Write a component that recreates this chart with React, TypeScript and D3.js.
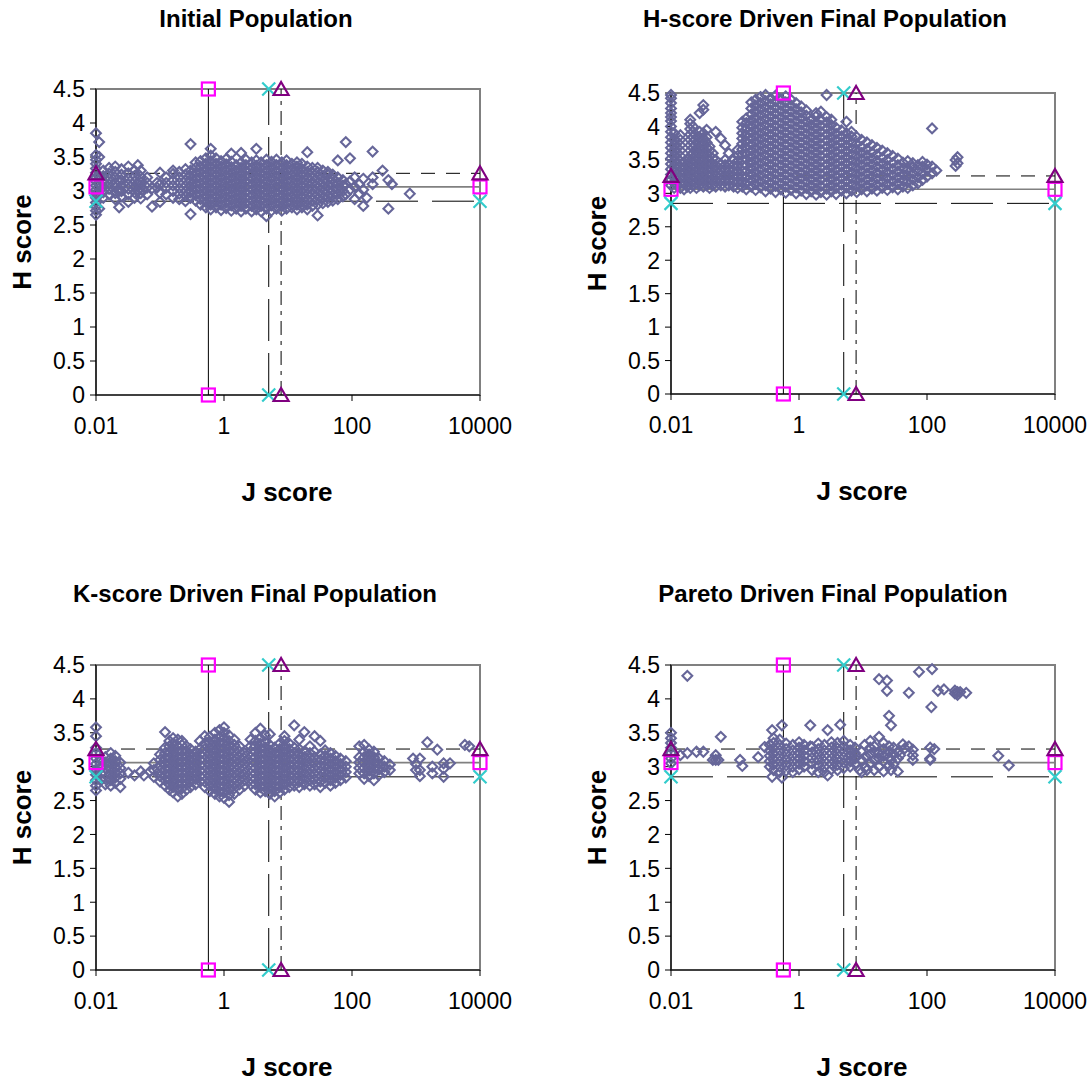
import React from 'react';
import * as d3 from 'd3';

// ---------- values ----------
const jTicks = [0.01, 1, 100, 10000];
const hTicks = [0, 0.5, 1, 1.5, 2, 2.5, 3, 3.5, 4, 4.5];
const jDomain = [0.01, 10000];
const hDomain = [0, 4.5];

// reference solutions: square, cross, triangle
const refNames = ['square', 'cross', 'triangle'];
const refJ = [0.57, 5.0, 7.8];
const refH = [3.06, 2.85, 3.26];

type Col = [number, number[]]; // [J score, H scores observed at that J]

const initialPop: Col[] = [
  [0.01, [2.65, 2.71, 2.77, 2.83, 2.9, 2.96, 3.02, 3.08, 3.14, 3.2, 3.27, 3.33, 3.4, 3.46, 3.53, 3.85]],
  [0.0112, [2.74, 2.95, 3.1, 3.22, 3.5, 3.72]],
  [0.013, [2.9, 2.98, 3.06, 3.14, 3.22, 3.3]],
  [0.016, [2.95, 3.03, 3.1, 3.18, 3.26, 3.34]],
  [0.02, [2.88, 2.97, 3.05, 3.12, 3.2, 3.28, 3.36]],
  [0.023, [2.76, 3.0, 3.15]],
  [0.025, [2.92, 3.0, 3.08, 3.16, 3.24, 3.32]],
  [0.032, [2.84, 2.95, 3.03, 3.1, 3.18, 3.26, 3.36]],
  [0.04, [2.9, 2.98, 3.06, 3.14, 3.22, 3.3]],
  [0.045, [3.0, 3.12, 3.38]],
  [0.05, [2.89, 2.97, 3.05, 3.13, 3.21, 3.3]],
  [0.063, [2.95, 3.05, 3.12, 3.2]],
  [0.075, [2.77, 3.04]],
  [0.09, [3.05, 3.12]],
  [0.1, [2.84, 2.97, 3.1, 3.27]],
  [0.125, [2.95, 3.05, 3.12, 3.2]],
  [0.16, [2.9, 3.0, 3.08, 3.16, 3.25, 3.3]],
  [0.2, [2.88, 2.96, 3.04, 3.12, 3.2, 3.28]],
  [0.25, [2.85, 2.93, 3.0, 3.08, 3.16, 3.24, 3.32]],
  [0.3, [2.66, 2.9, 2.98, 3.06, 3.14, 3.22, 3.3, 3.69]],
  [0.36, [2.86, 2.94, 3.02, 3.1, 3.18, 3.26, 3.34, 3.42]],
  [0.43, [2.8, 2.88, 2.96, 3.04, 3.12, 3.2, 3.28, 3.36, 3.44]],
  [0.52, [2.76, 2.84, 2.92, 3.0, 3.08, 3.16, 3.24, 3.32, 3.4, 3.48]],
  [0.62, [2.73, 2.8, 2.88, 2.96, 3.04, 3.12, 3.2, 3.28, 3.36, 3.44, 3.52, 3.62]],
  [0.75, [2.76, 2.84, 2.92, 3.0, 3.08, 3.16, 3.24, 3.32, 3.4, 3.48]],
  [0.9, [2.72, 2.8, 2.88, 2.96, 3.04, 3.12, 3.2, 3.28, 3.36, 3.44]],
  [1.08, [2.75, 2.83, 2.91, 2.99, 3.07, 3.15, 3.23, 3.31, 3.39, 3.47]],
  [1.3, [2.71, 2.79, 2.87, 2.95, 3.03, 3.11, 3.19, 3.27, 3.35, 3.43, 3.55]],
  [1.55, [2.74, 2.82, 2.9, 2.98, 3.06, 3.14, 3.22, 3.3, 3.38]],
  [1.85, [2.7, 2.78, 2.86, 2.94, 3.02, 3.1, 3.18, 3.26, 3.34, 3.42, 3.56]],
  [2.2, [2.74, 2.82, 2.9, 2.98, 3.06, 3.14, 3.22, 3.3, 3.38, 3.46]],
  [2.7, [2.7, 2.78, 2.86, 2.94, 3.02, 3.1, 3.18, 3.26, 3.34, 3.42]],
  [3.2, [2.73, 2.81, 2.89, 2.97, 3.05, 3.13, 3.21, 3.29, 3.37, 3.45, 3.62]],
  [3.8, [2.7, 2.78, 2.86, 2.94, 3.02, 3.1, 3.18, 3.26, 3.34, 3.42]],
  [4.6, [2.63, 2.74, 2.82, 2.9, 2.98, 3.06, 3.14, 3.22, 3.3, 3.38, 3.46]],
  [5.5, [2.71, 2.79, 2.87, 2.95, 3.03, 3.11, 3.19, 3.27, 3.35, 3.43]],
  [6.6, [2.74, 2.82, 2.9, 2.98, 3.06, 3.14, 3.22, 3.3, 3.38, 3.46]],
  [8, [2.71, 2.78, 2.86, 2.94, 3.02, 3.1, 3.18, 3.26, 3.34, 3.42]],
  [9.5, [2.74, 2.82, 2.9, 2.98, 3.06, 3.14, 3.22, 3.3, 3.38, 3.45]],
  [11.5, [2.76, 2.84, 2.92, 3.0, 3.08, 3.16, 3.24, 3.32, 3.4]],
  [13.8, [2.73, 2.8, 2.88, 2.96, 3.04, 3.12, 3.2, 3.28, 3.36, 3.42]],
  [16.5, [2.76, 2.84, 2.92, 3.0, 3.08, 3.16, 3.24, 3.32, 3.4]],
  [20, [2.73, 2.8, 2.88, 2.96, 3.04, 3.12, 3.2, 3.28, 3.36, 3.57]],
  [24, [2.78, 2.86, 2.94, 3.02, 3.1, 3.18, 3.26, 3.34]],
  [29, [2.64, 2.8, 2.88, 2.96, 3.04, 3.12, 3.2, 3.28, 3.34]],
  [35, [2.82, 2.9, 2.98, 3.06, 3.14, 3.22, 3.3]],
  [42, [2.84, 2.92, 3.0, 3.08, 3.16, 3.24, 3.28]],
  [50, [2.86, 2.94, 3.02, 3.1, 3.18, 3.24]],
  [60, [2.88, 2.96, 3.04, 3.12, 3.2, 3.45]],
  [72, [2.92, 3.0, 3.08, 3.16]],
  [80, [3.72, 2.95, 3.1]],
  [93, [3.48, 3.02, 3.14]],
  [110, [2.88, 3.06, 3.2]],
  [130, [2.96, 3.1]],
  [150, [2.78, 3.02, 3.18]],
  [170, [2.9]],
  [210, [3.58, 3.1, 3.2]],
  [300, [3.3]],
  [370, [2.74, 3.16]],
  [420, [3.1]],
  [800, [2.96]],
];

const hDriven: Col[] = [
  [0.01, [3.12, 3.2, 3.28, 3.36, 3.44, 3.52, 3.6, 3.68, 3.76, 3.84, 3.92, 4.0, 4.08, 4.14, 4.2, 4.27, 4.35, 4.42, 4.47]],
  [0.0112, [3.08, 3.16, 3.24, 3.32, 3.4, 3.48, 3.56, 3.64, 3.72, 3.8, 3.9]],
  [0.0125, [3.12, 3.2, 3.28, 3.36, 3.44, 3.52, 3.6, 3.68, 3.76]],
  [0.014, [3.08, 3.16, 3.24, 3.32, 3.4, 3.48, 3.56, 3.64, 3.72, 3.8, 3.87]],
  [0.016, [3.06, 3.14, 3.22, 3.3, 3.38, 3.46]],
  [0.018, [3.1, 3.18, 3.26, 3.34, 3.42, 3.5]],
  [0.02, [3.08, 3.16, 3.24, 3.32, 3.4, 3.48, 3.56, 3.64, 3.72, 3.8, 3.88, 3.96, 4.04, 4.1]],
  [0.022, [3.12, 3.2, 3.28, 3.36, 3.44, 3.52, 3.6, 3.68, 3.76, 3.84, 3.92, 4.0]],
  [0.025, [3.08, 3.16, 3.24, 3.32, 3.4, 3.48, 3.56, 3.62]],
  [0.028, [3.12, 3.2, 3.28, 3.36, 3.44, 3.52, 3.6, 3.68, 3.76, 3.84, 3.92, 4.2]],
  [0.032, [3.1, 3.18, 3.26, 3.34, 3.42, 3.5, 3.58, 3.66, 3.74, 3.82, 3.9, 4.25, 4.32]],
  [0.036, [3.12, 3.2, 3.28, 3.36, 3.44, 3.52, 3.6, 3.68, 3.76, 3.84, 3.95]],
  [0.04, [3.08, 3.16, 3.24, 3.32, 3.4, 3.48, 3.56, 3.64, 3.7]],
  [0.045, [3.12, 3.2, 3.28, 3.36, 3.44, 3.52, 3.6]],
  [0.05, [3.1, 3.18, 3.26, 3.34, 3.42, 3.5, 3.92]],
  [0.06, [3.12, 3.2, 3.28, 3.36, 3.44, 3.82]],
  [0.07, [3.1, 3.18, 3.26, 3.34, 3.42, 3.5, 3.72]],
  [0.08, [3.12, 3.2, 3.28, 3.36, 3.44, 3.6]],
  [0.095, [3.1, 3.18, 3.26, 3.34, 3.42, 3.5]],
  [0.11, [3.08, 3.16, 3.24, 3.32, 3.4, 3.48, 3.56, 3.65]],
  [0.13, [3.1, 3.18, 3.26, 3.34, 3.42, 3.5, 3.58, 3.66, 3.74, 3.82, 3.9, 3.98, 4.07]],
  [0.15, [3.06, 3.15, 3.24, 3.33, 3.42, 3.51, 3.6, 3.69, 3.78, 3.87, 3.96, 4.05, 4.12]],
  [0.18, [3.1, 3.19, 3.28, 3.37, 3.46, 3.55, 3.64, 3.73, 3.82, 3.91, 4.0, 4.09, 4.18, 4.27, 4.36]],
  [0.21, [3.05, 3.14, 3.23, 3.32, 3.41, 3.5, 3.59, 3.68, 3.77, 3.86, 3.95, 4.04, 4.13, 4.22, 4.31, 4.4]],
  [0.25, [3.09, 3.18, 3.27, 3.36, 3.45, 3.54, 3.63, 3.72, 3.81, 3.9, 3.99, 4.08, 4.17, 4.26, 4.35, 4.44]],
  [0.3, [3.03, 3.12, 3.21, 3.3, 3.39, 3.48, 3.57, 3.66, 3.75, 3.84, 3.93, 4.02, 4.11, 4.2, 4.29, 4.38, 4.47]],
  [0.36, [3.07, 3.16, 3.25, 3.34, 3.43, 3.52, 3.61, 3.7, 3.79, 3.88, 3.97, 4.06, 4.15, 4.24, 4.33, 4.42]],
  [0.43, [3.02, 3.11, 3.2, 3.29, 3.38, 3.47, 3.56, 3.65, 3.74, 3.83, 3.92, 4.01, 4.1, 4.19, 4.28, 4.37, 4.46]],
  [0.52, [3.06, 3.15, 3.24, 3.33, 3.42, 3.51, 3.6, 3.69, 3.78, 3.87, 3.96, 4.05, 4.14, 4.23, 4.32, 4.41]],
  [0.62, [3.01, 3.1, 3.19, 3.28, 3.37, 3.46, 3.55, 3.64, 3.73, 3.82, 3.91, 4.0, 4.09, 4.18, 4.27, 4.36, 4.45]],
  [0.75, [3.05, 3.14, 3.23, 3.32, 3.41, 3.5, 3.59, 3.68, 3.77, 3.86, 3.95, 4.04, 4.13, 4.22, 4.31, 4.4]],
  [0.9, [3.0, 3.09, 3.18, 3.27, 3.36, 3.45, 3.54, 3.63, 3.72, 3.81, 3.9, 3.99, 4.08, 4.17, 4.26, 4.35]],
  [1.08, [3.04, 3.13, 3.22, 3.31, 3.4, 3.49, 3.58, 3.67, 3.76, 3.85, 3.94, 4.03, 4.12, 4.21, 4.3]],
  [1.3, [2.99, 3.08, 3.17, 3.26, 3.35, 3.44, 3.53, 3.62, 3.71, 3.8, 3.89, 3.98, 4.07, 4.16, 4.24]],
  [1.55, [3.03, 3.12, 3.21, 3.3, 3.39, 3.48, 3.57, 3.66, 3.75, 3.84, 3.93, 4.02, 4.1]],
  [1.85, [2.98, 3.07, 3.16, 3.25, 3.34, 3.43, 3.52, 3.61, 3.7, 3.79, 3.88, 3.97, 4.06, 4.15, 4.2]],
  [2.2, [3.02, 3.11, 3.2, 3.29, 3.38, 3.47, 3.56, 3.65, 3.74, 3.83, 3.92, 4.01, 4.1, 4.22]],
  [2.7, [2.98, 3.07, 3.16, 3.25, 3.34, 3.43, 3.52, 3.61, 3.7, 3.79, 3.88, 3.97, 4.06, 4.14, 4.47]],
  [3.2, [3.03, 3.12, 3.21, 3.3, 3.39, 3.48, 3.57, 3.66, 3.75, 3.84, 3.93, 4.02, 4.1]],
  [3.8, [2.99, 3.08, 3.17, 3.26, 3.35, 3.44, 3.53, 3.62, 3.71, 3.8, 3.89, 3.98]],
  [4.6, [3.04, 3.13, 3.22, 3.31, 3.4, 3.49, 3.58, 3.67, 3.76, 3.85, 3.94]],
  [5.5, [3.0, 3.09, 3.18, 3.27, 3.36, 3.45, 3.54, 3.63, 3.72, 3.81, 3.9, 4.07]],
  [6.6, [3.04, 3.13, 3.22, 3.31, 3.4, 3.49, 3.58, 3.67, 3.76, 3.85, 3.92]],
  [8, [3.02, 3.11, 3.2, 3.29, 3.38, 3.47, 3.56, 3.65, 3.74, 3.84]],
  [9.5, [3.06, 3.15, 3.24, 3.33, 3.42, 3.51, 3.6, 3.69, 3.8]],
  [11.5, [3.03, 3.12, 3.21, 3.3, 3.39, 3.48, 3.57, 3.66, 3.76]],
  [13.8, [3.07, 3.16, 3.25, 3.34, 3.43, 3.52, 3.61, 3.72]],
  [16.5, [3.04, 3.13, 3.22, 3.31, 3.4, 3.49, 3.58, 3.68]],
  [20, [3.08, 3.17, 3.26, 3.35, 3.44, 3.53, 3.64]],
  [24, [3.05, 3.14, 3.23, 3.32, 3.41, 3.5, 3.6]],
  [29, [3.09, 3.18, 3.27, 3.36, 3.45, 3.56]],
  [35, [3.06, 3.15, 3.24, 3.33, 3.42, 3.52]],
  [42, [3.1, 3.19, 3.28, 3.37, 3.46]],
  [50, [3.08, 3.17, 3.26, 3.35, 3.48]],
  [60, [3.12, 3.21, 3.3, 3.39, 3.45]],
  [72, [3.15, 3.24, 3.33, 3.42]],
  [85, [3.2, 3.3, 3.4, 3.47]],
  [100, [3.25, 3.35, 3.43]],
  [120, [3.3, 3.4, 3.97]],
  [140, [3.34]],
  [280, [3.41, 3.5]],
  [300, [3.45, 3.54]],
];

const kDriven: Col[] = [
  [0.01, [2.65, 2.72, 2.8, 2.88, 2.96, 3.04, 3.12, 3.2, 3.28, 3.45, 3.58]],
  [0.012, [2.8, 2.9, 3.0, 3.1]],
  [0.014, [2.74, 2.82, 2.9, 2.98, 3.06, 3.14]],
  [0.017, [2.72, 2.8, 2.88, 2.96, 3.04, 3.12, 3.2]],
  [0.02, [2.76, 2.84, 2.92, 3.0, 3.08, 3.16]],
  [0.024, [2.7, 2.82, 2.9, 2.98, 3.06]],
  [0.032, [2.91]],
  [0.04, [2.87]],
  [0.05, [2.93]],
  [0.056, [2.87]],
  [0.07, [2.93]],
  [0.08, [2.85, 2.95, 3.05]],
  [0.1, [2.78, 2.86, 2.94, 3.02, 3.1, 3.18]],
  [0.12, [2.72, 2.8, 2.88, 2.96, 3.04, 3.12, 3.2, 3.28, 3.51]],
  [0.14, [2.66, 2.74, 2.82, 2.9, 2.98, 3.06, 3.14, 3.22, 3.3, 3.38]],
  [0.16, [2.62, 2.7, 2.78, 2.86, 2.94, 3.02, 3.1, 3.18, 3.26, 3.34, 3.42]],
  [0.19, [2.56, 2.66, 2.74, 2.82, 2.9, 2.98, 3.06, 3.14, 3.22, 3.3, 3.4]],
  [0.22, [2.6, 2.68, 2.76, 2.84, 2.92, 3.0, 3.08, 3.16, 3.24, 3.32, 3.38]],
  [0.26, [2.66, 2.74, 2.82, 2.9, 2.98, 3.06, 3.14, 3.22, 3.3]],
  [0.3, [2.7, 2.78, 2.86, 2.94, 3.02, 3.1, 3.18, 3.26]],
  [0.36, [2.74, 2.82, 2.9, 2.98, 3.06, 3.14, 3.22]],
  [0.42, [2.78, 2.86, 2.94, 3.02, 3.1, 3.18, 3.26, 3.38]],
  [0.5, [2.7, 2.78, 2.86, 2.94, 3.02, 3.1, 3.18, 3.26, 3.34, 3.45]],
  [0.6, [2.64, 2.72, 2.8, 2.88, 2.96, 3.04, 3.12, 3.2, 3.28, 3.36, 3.44]],
  [0.72, [2.6, 2.68, 2.76, 2.84, 2.92, 3.0, 3.08, 3.16, 3.24, 3.32, 3.4, 3.5]],
  [0.85, [2.56, 2.64, 2.72, 2.8, 2.88, 2.96, 3.04, 3.12, 3.2, 3.28, 3.36, 3.44, 3.54]],
  [1, [2.54, 2.62, 2.7, 2.78, 2.86, 2.94, 3.02, 3.1, 3.18, 3.26, 3.34, 3.42, 3.5, 3.58]],
  [1.2, [2.48, 2.58, 2.66, 2.74, 2.82, 2.9, 2.98, 3.06, 3.14, 3.22, 3.3, 3.38, 3.46]],
  [1.45, [2.6, 2.68, 2.76, 2.84, 2.92, 3.0, 3.08, 3.16, 3.24, 3.32, 3.4]],
  [1.75, [2.66, 2.74, 2.82, 2.9, 2.98, 3.06, 3.14, 3.22, 3.3]],
  [2.1, [2.72, 2.8, 2.88, 2.96, 3.04, 3.12, 3.2]],
  [2.6, [2.74, 2.82, 2.9, 2.98, 3.06, 3.14, 3.22, 3.3, 3.4]],
  [3.1, [2.66, 2.74, 2.82, 2.9, 2.98, 3.06, 3.14, 3.22, 3.3, 3.38, 3.5]],
  [3.7, [2.62, 2.7, 2.78, 2.86, 2.94, 3.02, 3.1, 3.18, 3.26, 3.34, 3.42, 3.56]],
  [4.4, [2.64, 2.72, 2.8, 2.88, 2.96, 3.04, 3.12, 3.2, 3.28, 3.36, 3.46]],
  [5.2, [2.6, 2.68, 2.76, 2.84, 2.92, 3.0, 3.08, 3.16, 3.24, 3.32, 3.48]],
  [6.2, [2.56, 2.64, 2.72, 2.8, 2.88, 2.96, 3.04, 3.12, 3.2, 3.28]],
  [7.4, [2.62, 2.7, 2.78, 2.86, 2.94, 3.02, 3.1, 3.18, 3.26, 3.34]],
  [8.8, [2.66, 2.74, 2.82, 2.9, 2.98, 3.06, 3.14, 3.22, 3.3, 3.38, 3.45]],
  [10.5, [2.7, 2.78, 2.86, 2.94, 3.02, 3.1, 3.18, 3.26, 3.34]],
  [12.5, [2.72, 2.8, 2.88, 2.96, 3.04, 3.12, 3.2, 3.28, 3.61]],
  [15, [2.7, 2.78, 2.86, 2.94, 3.02, 3.1, 3.18, 3.26, 3.4]],
  [18, [2.74, 2.82, 2.9, 2.98, 3.06, 3.14, 3.22, 3.51]],
  [22, [2.72, 2.8, 2.88, 2.96, 3.04, 3.12, 3.2, 3.3]],
  [26, [2.74, 2.82, 2.9, 2.98, 3.06, 3.14, 3.22, 3.45]],
  [32, [2.7, 2.78, 2.86, 2.94, 3.02, 3.1, 3.18, 3.38]],
  [38, [2.76, 2.84, 2.92, 3.0, 3.08, 3.16, 3.24]],
  [46, [2.72, 2.8, 2.88, 2.96, 3.04, 3.12, 3.2]],
  [55, [2.76, 2.84, 2.92, 3.0, 3.08, 3.16]],
  [66, [2.8, 2.88, 2.96, 3.04, 3.12]],
  [80, [2.84, 2.92, 3.0, 3.08]],
  [130, [2.9, 2.98, 3.06, 3.14, 3.3]],
  [155, [2.82, 2.9, 2.98, 3.06, 3.14, 3.22, 3.32]],
  [185, [2.86, 2.94, 3.02, 3.1, 3.18, 3.25]],
  [220, [2.8, 2.9, 2.98, 3.06, 3.14, 3.22]],
  [265, [2.88, 2.96, 3.04, 3.12]],
  [320, [2.92, 3.0, 3.08]],
  [390, [2.95, 3.03]],
  [900, [3.12]],
  [1000, [2.95, 3.04]],
  [1150, [2.86, 2.95, 3.12]],
  [1500, [3.36]],
  [1800, [2.9, 3.0]],
  [2150, [3.25]],
  [2700, [2.85, 2.97, 3.05]],
  [3400, [3.05]],
  [5800, [3.32]],
  [6800, [3.3]],
];

const paretoDriven: Col[] = [
  [0.01, [3.05, 3.12, 3.2, 3.28, 3.35, 3.42, 3.5]],
  [0.014, [3.17]],
  [0.018, [3.2, 4.34]],
  [0.025, [3.22]],
  [0.032, [3.22]],
  [0.045, [3.1]],
  [0.05, [3.1, 3.17]],
  [0.055, [3.1]],
  [0.06, [3.44]],
  [0.12, [3.1]],
  [0.13, [3.01]],
  [0.23, [3.14]],
  [0.29, [3.29]],
  [0.35, [3.0, 3.08, 3.16, 3.24, 3.32]],
  [0.38, [3.54, 2.85]],
  [0.4, [2.95, 3.03, 3.11, 3.19, 3.27, 3.35, 3.42]],
  [0.5, [2.92, 3.0, 3.08, 3.16, 3.24, 3.32, 3.4]],
  [0.54, [3.61, 2.84]],
  [0.63, [2.94, 3.02, 3.1, 3.18, 3.26, 3.34]],
  [0.8, [2.92, 3.0, 3.08, 3.16, 3.24, 3.32]],
  [1, [2.96, 3.04, 3.12, 3.2, 3.28, 3.36]],
  [1.2, [3.0, 3.08, 3.16, 3.24, 3.32]],
  [1.5, [3.61, 3.3]],
  [1.6, [2.95, 3.05, 3.13, 3.21, 3.29]],
  [2, [2.92, 3.02, 3.1, 3.18, 3.26, 3.34]],
  [2.5, [2.92, 3.0, 3.08, 3.16, 3.24, 3.32]],
  [2.8, [3.54, 2.87]],
  [3.2, [2.96, 3.04, 3.12, 3.2, 3.28, 3.36]],
  [4, [2.95, 3.03, 3.11, 3.19, 3.27, 3.35]],
  [4.4, [3.62]],
  [5, [2.98, 3.06, 3.14, 3.22, 3.3, 3.38]],
  [6.3, [3.0, 3.08, 3.16, 3.24, 3.32]],
  [7.5, [3.04, 3.12, 3.2, 3.28]],
  [8.9, [2.95]],
  [9.5, [2.92, 3.1, 3.22]],
  [10.6, [3.32]],
  [11, [2.99, 3.15]],
  [11.5, [2.95]],
  [13, [3.05, 3.18, 3.28, 3.38]],
  [15, [2.95, 3.1, 3.22, 3.3]],
  [17.8, [3.0, 3.12, 3.2, 3.44, 4.29]],
  [21, [2.93, 3.08, 3.16, 3.26, 3.35]],
  [23.7, [4.27, 4.12]],
  [25.5, [3.02, 3.14, 3.22, 3.3, 3.75]],
  [27.4, [3.61, 3.1, 2.95]],
  [30, [3.04, 3.18, 3.28]],
  [35, [2.93, 3.12, 3.22]],
  [38, [3.17]],
  [42, [3.33]],
  [45, [3.27]],
  [52, [3.3, 4.09]],
  [60, [3.25, 3.1, 3.17]],
  [75, [4.4]],
  [112, [3.1, 3.28, 3.12]],
  [117, [3.88]],
  [120, [4.44]],
  [130, [3.26]],
  [148, [4.12]],
  [184, [4.14]],
  [273, [4.12, 4.08]],
  [300, [4.1, 4.06]],
  [330, [4.1]],
  [410, [4.09]],
  [1300, [3.16]],
  [1900, [3.02]],
];

// ---------- layout ----------
const PLOT_W = 384;
const FONT = '"Liberation Sans", Arial, Helvetica, sans-serif';
const POINT_COLOR = '#666699';

const panels = [
  { title: 'Initial Population', data: initialPop, left: 96, top: 89, height: 306, titleX: 256, titleY: 27 },
  { title: 'H-score Driven Final Population', data: hDriven, left: 671, top: 93, height: 301, titleX: 825, titleY: 27 },
  { title: 'K-score Driven Final Population', data: kDriven, left: 96, top: 665, height: 305, titleX: 255, titleY: 602 },
  { title: 'Pareto Driven Final Population', data: paretoDriven, left: 671, top: 665, height: 305, titleX: 833, titleY: 602 },
];

const diamond = 'M0,-4.9L4.9,0L0,4.9L-4.9,0Z';

const refStyle: Record<string, { v: any; h: any }> = {
  square: {
    v: { stroke: '#000', strokeWidth: 1 },
    h: { stroke: '#808080', strokeWidth: 1.6 },
  },
  cross: {
    v: { stroke: '#000', strokeWidth: 1, strokeDasharray: '42,12' },
    h: { stroke: '#000', strokeWidth: 1, strokeDasharray: '42,14' },
  },
  triangle: {
    v: { stroke: '#000', strokeWidth: 1, strokeDasharray: '14,6,4,6' },
    h: { stroke: '#000', strokeWidth: 1, strokeDasharray: '14,11' },
  },
};

function Marker({ kind, x, y }: { kind: string; x: number; y: number }) {
  if (kind === 'square') {
    return <rect x={x - 6.5} y={y - 6.5} width={13} height={13} fill="none" stroke="#FF00FF" strokeWidth={2.2} />;
  }
  if (kind === 'cross') {
    return (
      <path d={`M${x - 6.5},${y - 6.5}L${x + 6.5},${y + 6.5}M${x + 6.5},${y - 6.5}L${x - 6.5},${y + 6.5}`}
        stroke="#33CCCC" strokeWidth={2.2} fill="none" />
    );
  }
  return (
    <path d={`M${x},${y - 7}L${x + 7.5},${y + 6}L${x - 7.5},${y + 6}Z`} stroke="#800080" strokeWidth={2.2} fill="none" />
  );
}

function Panel({ cfg }: { cfg: typeof panels[number] }) {
  const x = d3.scaleLog().domain(jDomain).range([0, PLOT_W]);
  const y = d3.scaleLinear().domain(hDomain).range([cfg.height, 0]);
  const pts = cfg.data.flatMap(([j, hs]) => hs.map((h) => [j, h] as [number, number]));
  const fmt = (v: number) => String(v);
  const cy = cfg.height / 2;
  return (
    <g>
      <text x={cfg.titleX} y={cfg.titleY} textAnchor="middle" fontFamily={FONT} fontWeight="bold" fontSize={24}>
        {cfg.title}
      </text>
      <g transform={`translate(${cfg.left},${cfg.top})`}>
        <rect x={0} y={0} width={PLOT_W} height={cfg.height} fill="none" stroke="#808080" strokeWidth={2} />
        {refNames.map((n, i) => (
          <g key={n}>
            <line x1={x(refJ[i])} x2={x(refJ[i])} y1={y(hDomain[0])} y2={y(hDomain[1])} {...refStyle[n].v} />
            <line x1={x(jDomain[0])} x2={x(jDomain[1])} y1={y(refH[i])} y2={y(refH[i])} {...refStyle[n].h} />
          </g>
        ))}
        <line x1={0} x2={0} y1={0} y2={cfg.height} stroke="#000" strokeWidth={1.2} />
        <line x1={0} x2={PLOT_W} y1={cfg.height} y2={cfg.height} stroke="#000" strokeWidth={1.2} />
        {hTicks.map((t) => (
          <g key={t}>
            <line x1={-6} x2={0} y1={y(t)} y2={y(t)} stroke="#000" strokeWidth={1} />
            <text x={-11} y={y(t)} dy="0.36em" textAnchor="end" fontFamily={FONT} fontSize={23}>{fmt(t)}</text>
          </g>
        ))}
        {jTicks.map((t) => (
          <g key={t}>
            <line x1={x(t)} x2={x(t)} y1={cfg.height} y2={cfg.height + 6} stroke="#000" strokeWidth={1} />
            <text x={x(t)} y={cfg.height + 39} textAnchor="middle" fontFamily={FONT} fontSize={23}>{fmt(t)}</text>
          </g>
        ))}
        {pts.map(([j, h], k) => (
          <path key={k} d={diamond} transform={`translate(${x(j)},${y(h)})`} fill="none" stroke={POINT_COLOR} strokeWidth={2.1} />
        ))}
        {refNames.map((n, i) => (
          <g key={n}>
            <Marker kind={n} x={x(refJ[i])} y={y(hDomain[1])} />
            <Marker kind={n} x={x(refJ[i])} y={y(hDomain[0])} />
            <Marker kind={n} x={x(jDomain[0])} y={y(refH[i])} />
            <Marker kind={n} x={x(jDomain[1])} y={y(refH[i])} />
          </g>
        ))}
        <text x={PLOT_W / 2 - 1} y={cfg.height + 106} textAnchor="middle" fontFamily={FONT} fontWeight="bold" fontSize={26}>
          J score
        </text>
        <text transform={`translate(-74,${cy}) rotate(-90)`} dy="0.36em" textAnchor="middle" fontFamily={FONT} fontWeight="bold" fontSize={26}>
          H score
        </text>
      </g>
    </g>
  );
}

export default function App() {
  return (
    <svg width={1088} height={1084} style={{ position: 'absolute', left: 0, top: 0, background: '#fff' }}>
      <rect x={0} y={0} width={1088} height={1084} fill="#fff" />
      {panels.map((p) => (
        <Panel key={p.title} cfg={p} />
      ))}
    </svg>
  );
}
